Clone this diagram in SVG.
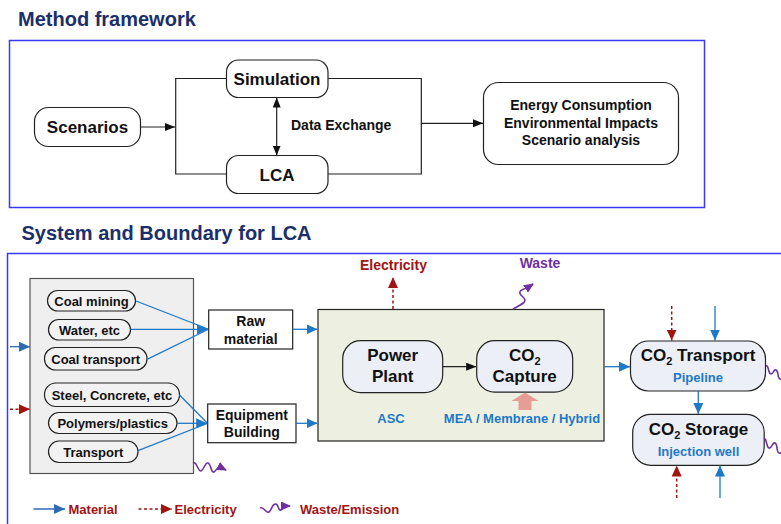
<svg xmlns="http://www.w3.org/2000/svg" width="781" height="524" viewBox="0 0 781 524">
<defs>
<style>
text{font-family:"Liberation Sans",Arial,sans-serif;font-weight:bold;}
.title{font-size:20px;fill:#1b2f6b;}
.frame{fill:none;stroke:#3a3af5;stroke-width:1.5;}
.rnode{fill:#fff;stroke:#222;stroke-width:1.2;}
.t17{font-size:17px;fill:#111;text-anchor:middle;}
.t14{font-size:14px;fill:#111;text-anchor:middle;}
.t13{font-size:13px;fill:#111;text-anchor:middle;}
.pill{fill:#f2f2f2;stroke:#222;stroke-width:1.2;}
.gnode{fill:#eceff5;stroke:#222;stroke-width:1.2;}
.blk{fill:none;stroke:#222;stroke-width:1.2;}
.blu{fill:none;stroke:#1f78c8;stroke-width:1.3;}
.red{fill:none;stroke:#a01414;stroke-width:1.5;stroke-dasharray:3,2.5;}
.pur{fill:none;stroke:#7030a0;stroke-width:1.6;}
.bluet{font-size:13px;fill:#1f78c8;text-anchor:middle;}
</style>
<marker id="aB" markerUnits="userSpaceOnUse" markerWidth="10" markerHeight="8" refX="10" refY="4" orient="auto-start-reverse"><path d="M0,0L10,4L0,8z" fill="#111"/></marker>
<marker id="aU" markerUnits="userSpaceOnUse" markerWidth="11" markerHeight="10" refX="11" refY="5" orient="auto"><path d="M0,0L11,5L0,10z" fill="#1f78c8"/></marker>
<marker id="aL" markerUnits="userSpaceOnUse" markerWidth="11" markerHeight="10" refX="11" refY="5" orient="auto"><path d="M0,0L11,5L0,10z" fill="#2e6ab5"/></marker>
<marker id="aR" markerUnits="userSpaceOnUse" markerWidth="11" markerHeight="10" refX="11" refY="5" orient="auto"><path d="M0,0L11,5L0,10z" fill="#a01414"/></marker>
<marker id="aP" markerUnits="userSpaceOnUse" markerWidth="10" markerHeight="9" refX="9" refY="4.5" orient="auto"><path d="M0,0L10,4.5L0,9z" fill="#7030a0"/></marker>
</defs>

<!-- Section 1 -->
<text class="title" x="18" y="26">Method framework</text>
<rect class="frame" x="9.5" y="40.5" width="695" height="167"/>

<g id="scenarios"><rect class="rnode" x="34.5" y="107.5" width="106" height="39" rx="14"/><text class="t17" x="87.5" y="133">Scenarios</text></g>
<g id="simulation"><rect class="rnode" x="226.5" y="60" width="101.5" height="37.5" rx="12"/><text class="t17" x="277" y="84.5">Simulation</text></g>
<g id="lca"><rect class="rnode" x="226.5" y="155.5" width="101.5" height="38" rx="12"/><text class="t17" x="277" y="180.5">LCA</text></g>
<g id="results"><rect class="rnode" x="483.5" y="82.5" width="195" height="82" rx="15"/>
<text class="t14" x="581" y="110">Energy Consumption</text>
<text class="t14" x="581" y="127.5">Environmental Impacts</text>
<text class="t14" x="581" y="145">Scenario analysis</text></g>

<g id="connectors1">
<path class="blk" d="M140.5,127H175" marker-end="url(#aB)"/>
<path class="blk" d="M226.5,78.5H175.7V174H226.5"/>
<path class="blk" d="M328,78.5H421.3V174H328"/>
<path class="blk" d="M276.7,97.5V155.5" marker-start="url(#aB)" marker-end="url(#aB)"/>
<path class="blk" d="M421.3,123.3H483" marker-end="url(#aB)"/>
<text x="291" y="129.5" style="font-size:14px;fill:#111">Data Exchange</text>
</g>

<!-- Section 2 -->
<text class="title" x="21.5" y="240">System and Boundary for LCA</text>
<rect class="frame" x="7.5" y="253.5" width="800" height="300"/>

<g id="inputs-box"><rect x="30" y="278.5" width="163.5" height="195" fill="#efefef" stroke="#555" stroke-width="1.2"/></g>
<g id="coal-mining"><rect class="pill" x="47.5" y="290.5" width="88" height="20.5" rx="10.2"/><text class="t13" x="91.5" y="305.5">Coal mining</text></g>
<g id="water"><rect class="pill" x="48.5" y="319.5" width="82" height="20.5" rx="10.2"/><text class="t13" x="89.5" y="334.5">Water, etc</text></g>
<g id="coal-transport"><rect class="pill" x="44.5" y="347.5" width="102.5" height="22.5" rx="11"/><text class="t13" x="95.7" y="363.5">Coal transport</text></g>
<g id="steel"><rect class="pill" x="44.5" y="383" width="135" height="23.5" rx="11.5"/><text class="t13" x="112" y="399.5">Steel, Concrete, etc</text></g>
<g id="polymers"><rect class="pill" x="48.5" y="412.5" width="128.5" height="21" rx="10.5"/><text class="t13" x="112.7" y="427.5">Polymers/plastics</text></g>
<g id="transport"><rect class="pill" x="48.5" y="441" width="89.5" height="21.5" rx="10.7"/><text class="t13" x="93.3" y="456.5">Transport</text></g>

<g id="raw-material"><rect x="208.7" y="310" width="84" height="39" fill="#fff" stroke="#222" stroke-width="1.2"/><text class="t14" x="250.7" y="325.5">Raw</text><text class="t14" x="250.7" y="343.5">material</text></g>
<g id="equipment"><rect x="207.7" y="404" width="88.3" height="38.7" fill="#fff" stroke="#222" stroke-width="1.2"/><text class="t14" x="251.8" y="419.5">Equipment</text><text class="t14" x="251.8" y="437">Building</text></g>

<g id="main-box"><rect x="318" y="309.5" width="286" height="131.5" fill="#edf0e0" stroke="#222" stroke-width="1.2"/>
<text class="bluet" x="391" y="423">ASC</text>
<text class="bluet" x="522" y="423">MEA / Membrane / Hybrid</text></g>
<g id="power-plant"><rect class="gnode" x="342.7" y="340.7" width="100" height="52" rx="18"/><text class="t17" x="392.7" y="361">Power</text><text class="t17" x="392.7" y="381.5">Plant</text></g>
<g id="co2-capture"><rect class="gnode" x="476.7" y="340.7" width="96" height="51.5" rx="18"/><text class="t17" x="524.7" y="361">CO<tspan font-size="11" dy="4">2</tspan></text><text class="t17" x="524.7" y="381.5">Capture</text></g>
<g id="co2-transport"><rect class="gnode" x="630.5" y="341" width="135" height="50" rx="18"/><text class="t17" x="698" y="361">CO<tspan font-size="11" dy="4">2</tspan><tspan dy="-4"> Transport</tspan></text><text class="bluet" x="698" y="381.5">Pipeline</text></g>
<g id="co2-storage"><rect class="gnode" x="632.7" y="414.3" width="131.5" height="51" rx="18"/><text class="t17" x="698.5" y="435">CO<tspan font-size="11" dy="4">2</tspan><tspan dy="-4"> Storage</tspan></text><text class="bluet" x="698.5" y="456">Injection well</text></g>

<g id="labels">
<text x="393.5" y="269.5" style="font-size:14px;fill:#a01414;text-anchor:middle">Electricity</text>
<text x="540" y="267.5" style="font-size:14px;fill:#7030a0;text-anchor:middle">Waste</text>
</g>

<g id="connectors2">
<path class="blu" d="M136,301L208,329"/>
<path class="blu" d="M130.5,329.3H208" marker-end="url(#aU)"/>
<path class="blu" d="M147,359.3L208,329.5"/>
<path class="blu" d="M179.5,395L207.2,423"/>
<path class="blu" d="M177,423.3H207.2" marker-end="url(#aU)"/>
<path class="blu" d="M138,450.7L207.2,423.5"/>
<path class="blu" d="M292.7,329.3H317.5" marker-end="url(#aU)"/>
<path class="blu" d="M296,423.3H317.5" marker-end="url(#aU)"/>
<path class="blu" d="M10,346.7H30" marker-end="url(#aL)" style="stroke:#2e6ab5"/>
<path class="red" d="M10,409.3H30" marker-end="url(#aR)"/>
<path class="blk" d="M442.7,366.7H476.2" marker-end="url(#aB)"/>
<polygon points="518.5,410 531.5,410 531.5,401 538.5,401 525,392.5 511.5,401 518.5,401" fill="#e59d96"/>
<path class="red" d="M393,309V277" marker-end="url(#aR)"/>
<path class="pur" d="M513,309C520,305 529,302 523,297C517,292 520,290 527,288L533,284" marker-end="url(#aP)"/>
<path class="pur" d="M193,463C197,461 198,472 201,471C204,470 205,462 208,463C211,464 211,473 214,472C216,471 217,467 220,467L226,470" marker-end="url(#aP)"/>
<path class="blu" d="M604.3,366.7H630" marker-end="url(#aU)"/>
<path class="blu" d="M698.3,391V414" marker-end="url(#aU)"/>
<path class="red" d="M671.7,306V340.5" marker-end="url(#aR)"/>
<path class="blu" d="M715,306V340.5" marker-end="url(#aU)"/>
<path class="red" d="M676.7,498V465.5" marker-end="url(#aR)"/>
<path class="blu" d="M720,498V465.5" marker-end="url(#aU)"/>
<path class="pur" d="M766,366C769,365 768,374 771,374C774,374 773,369 776,370C779,371 777,378 780,379C783,380 783,376 786,378"/>
<path class="pur" d="M764,439C767,438 766,447 769,448C772,449 772,442 775,443C778,444 776,452 779,453C782,454 782,450 785,452"/>
</g>

<g id="legend">
<path d="M33.5,509H65" stroke="#2e6ab5" stroke-width="1.5" fill="none" marker-end="url(#aL)"/>
<text x="68.5" y="513.5" style="font-size:13px;fill:#a01414">Material</text>
<path class="red" d="M138.5,509H172" marker-end="url(#aR)"/>
<text x="174.5" y="513.5" style="font-size:13px;fill:#a01414">Electricity</text>
<path class="pur" d="M260,508C264,506 266,514 269,512C272,510 272,503 276,504C279,505 278,511 281,510C283,509 283,506 286,506L290,506" marker-end="url(#aP)"/>
<text x="300" y="513.5" style="font-size:13px;fill:#a01414">Waste/Emission</text>
</g>
</svg>
